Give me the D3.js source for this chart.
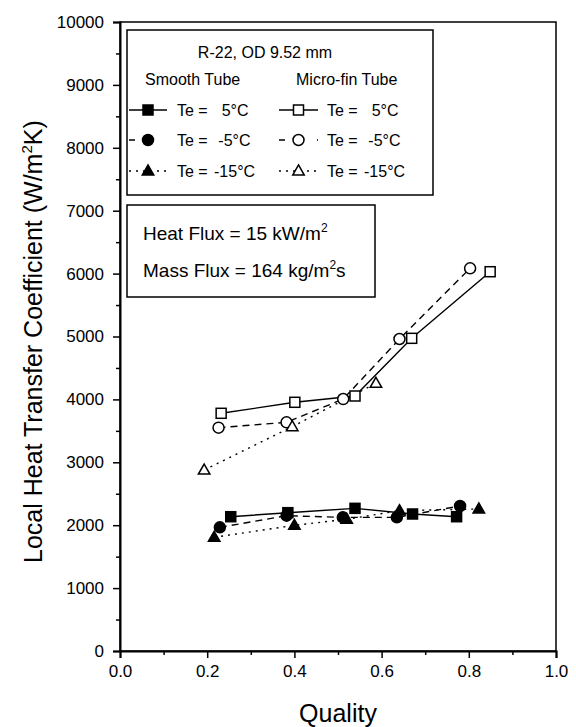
<!DOCTYPE html>
<html><head><meta charset="utf-8">
<script src="https://cdn.jsdelivr.net/npm/d3@7"></script>
<style>
html,body{margin:0;padding:0;background:#fff;}
text{font-family:"Liberation Sans",Arial,sans-serif;fill:#000;}
</style></head>
<body>
<svg id="c" width="576" height="727"></svg>
<script>
// ---- data ----
const xTicks = [0.0, 0.2, 0.4, 0.6, 0.8, 1.0];
const yTicks = [0, 1000, 2000, 3000, 4000, 5000, 6000, 7000, 8000, 9000, 10000];
const smooth5Q = [0.254, 0.385, 0.539, 0.671, 0.772];
const smooth5H = [2135, 2199, 2268, 2178, 2135];
const smoothM5Q = [0.229, 0.382, 0.511, 0.635, 0.780];
const smoothM5H = [1966, 2151, 2125, 2125, 2305];
const smoothM15Q = [0.216, 0.400, 0.520, 0.641, 0.823];
const smoothM15H = [1808, 1998, 2094, 2231, 2258];
const micro5Q = [0.232, 0.401, 0.539, 0.669, 0.849];
const micro5H = [3779, 3954, 4054, 4971, 6030];
const microM5Q = [0.226, 0.382, 0.512, 0.641, 0.803];
const microM5H = [3550, 3636, 4006, 4960, 6084];
const microM15Q = [0.193, 0.395, 0.587];
const microM15H = [2877, 3566, 4256];
const legendTemps = ["5°C", "-5°C", "-15°C"];

const series = [
  {q: smooth5Q, h: smooth5H, shape: "square", filled: true, dash: null},
  {q: smoothM5Q, h: smoothM5H, shape: "circle", filled: true, dash: "7,5"},
  {q: smoothM15Q, h: smoothM15H, shape: "triangle", filled: true, dash: "2,5"},
  {q: micro5Q, h: micro5H, shape: "square", filled: false, dash: null},
  {q: microM5Q, h: microM5H, shape: "circle", filled: false, dash: "7,5"},
  {q: microM15Q, h: microM15H, shape: "triangle", filled: false, dash: "2,5"}
];

const svg = d3.select("#c");
const L = 120, R = 556, T = 22, B = 651;
const x = d3.scaleLinear().domain([0, 1]).range([L, R]);
const y = d3.scaleLinear().domain([0, 10000]).range([B, T]);

// frame
svg.append("rect").attr("x", L).attr("y", T).attr("width", R - L).attr("height", B - T)
  .attr("fill", "none").attr("stroke", "#000").attr("stroke-width", 1.5);

// axes
const fmtX = d3.format(".1f");
const ax = svg.append("g").attr("transform", `translate(0,${B})`)
  .call(d3.axisBottom(x).tickValues(xTicks).tickFormat(fmtX).tickSize(7).tickPadding(7));
const ay = svg.append("g").attr("transform", `translate(${L},0)`)
  .call(d3.axisLeft(y).tickValues(yTicks).tickFormat(d3.format("d")).tickSize(7).tickPadding(9));
[ax, ay].forEach(g => {
  g.select(".domain").attr("stroke-width", 2);
  g.selectAll(".tick line").attr("stroke-width", 1.5);
  g.selectAll("text").style("font-size", "17px").style("font-family", '"Liberation Sans",Arial,sans-serif');
});
// minor ticks
svg.append("g").attr("transform", `translate(0,${B})`)
  .call(d3.axisBottom(x).tickValues([0.1, 0.3, 0.5, 0.7, 0.9]).tickFormat("").tickSize(4))
  .call(g => { g.select(".domain").remove(); g.selectAll("line").attr("stroke-width", 1.5); });
svg.append("g").attr("transform", `translate(${L},0)`)
  .call(d3.axisLeft(y).tickValues(d3.range(500, 10000, 1000)).tickFormat("").tickSize(4))
  .call(g => { g.select(".domain").remove(); g.selectAll("line").attr("stroke-width", 1.5); });

// axis titles
svg.append("text").attr("x", (L + R) / 2).attr("y", 722).attr("text-anchor", "middle")
  .style("font-size", "25px").text("Quality");
const yt = svg.append("text").attr("transform", "translate(42,563) rotate(-90)")
  .attr("text-anchor", "start").style("font-size", "25px");
yt.append("tspan").text("Local Heat Transfer Coefficient (W/m");
yt.append("tspan").attr("dy", -10).style("font-size", "15px").text("2");
yt.append("tspan").attr("dy", 10).text("K)");

// markers
function marker(g, shape, cx, cy, filled, s) {
  let el;
  if (shape === "square") {
    el = g.append("rect").attr("x", cx - s / 2).attr("y", cy - s / 2).attr("width", s).attr("height", s);
  } else if (shape === "circle") {
    el = g.append("circle").attr("cx", cx).attr("cy", cy).attr("r", s / 2 + 0.5);
  } else {
    const a = s * 1.15, hgt = a * 0.87;
    el = g.append("path").attr("d",
      `M${cx},${cy - hgt * 0.6}L${cx + a / 2},${cy + hgt * 0.4}L${cx - a / 2},${cy + hgt * 0.4}Z`);
  }
  el.attr("fill", filled ? "#000" : "#fff").attr("stroke", "#000").attr("stroke-width", 1.5);
}

const line = d3.line().x(d => x(d[0])).y(d => y(d[1]));
const plot = svg.append("g");
series.forEach(s => {
  const pts = s.q.map((q, i) => [q, s.h[i]]);
  plot.append("path").attr("d", line(pts)).attr("fill", "none").attr("stroke", "#000")
    .attr("stroke-width", 1.4).attr("stroke-dasharray", s.dash);
});
series.forEach(s => {
  s.q.forEach((q, i) => marker(plot, s.shape, x(q), y(s.h[i]), s.filled, 10));
});

// legend box 1
svg.append("rect").attr("x", 127).attr("y", 30).attr("width", 306).attr("height", 165)
  .attr("fill", "#fff").attr("stroke", "#000").attr("stroke-width", 1.5);
svg.append("text").attr("x", 265).attr("y", 58).attr("text-anchor", "middle").style("font-size", "16px")
  .text("R-22, OD 9.52 mm");
svg.append("text").attr("x", 145).attr("y", 85).style("font-size", "16px").text("Smooth Tube");
svg.append("text").attr("x", 296).attr("y", 85).style("font-size", "16px").text("Micro-fin Tube");
const rowY = [110, 140, 171];
const valOffset = [44.7, 41.3, 37];
series.forEach((s, k) => {
  const row = k % 3, col = Math.floor(k / 3);
  const cy = rowY[row];
  const lx0 = col === 0 ? 129 : 279, lx1 = col === 0 ? 167 : 318;
  const mx = (lx0 + lx1) / 2;
  const lg = svg.append("g");
  lg.append("line").attr("x1", lx0).attr("x2", lx1).attr("y1", cy).attr("y2", cy)
    .attr("stroke", "#000").attr("stroke-width", 1.4).attr("stroke-dasharray", s.dash === "7,5" ? "6,13" : s.dash);
  marker(lg, s.shape, mx, cy, s.filled, 10);
  const tx = col === 0 ? 177 : 327;
  lg.append("text").attr("x", tx).attr("y", cy + 6).style("font-size", "16px").text("Te =");
  lg.append("text").attr("x", tx + valOffset[row]).attr("y", cy + 6).style("font-size", "16px").text(legendTemps[row]);
});

// legend box 2
svg.append("rect").attr("x", 127).attr("y", 205).attr("width", 248).attr("height", 92)
  .attr("fill", "#fff").attr("stroke", "#000").attr("stroke-width", 1.5);
const t1 = svg.append("text").attr("x", 143).attr("y", 240).style("font-size", "19px");
t1.append("tspan").text("Heat Flux = 15 kW/m");
t1.append("tspan").attr("dy", -8).style("font-size", "12px").text("2");
const t2 = svg.append("text").attr("x", 143).attr("y", 277).style("font-size", "19px");
t2.append("tspan").text("Mass Flux = 164 kg/m");
t2.append("tspan").attr("dy", -8).style("font-size", "12px").text("2");
t2.append("tspan").attr("dy", 8).text("s");
</script>
</body></html>
